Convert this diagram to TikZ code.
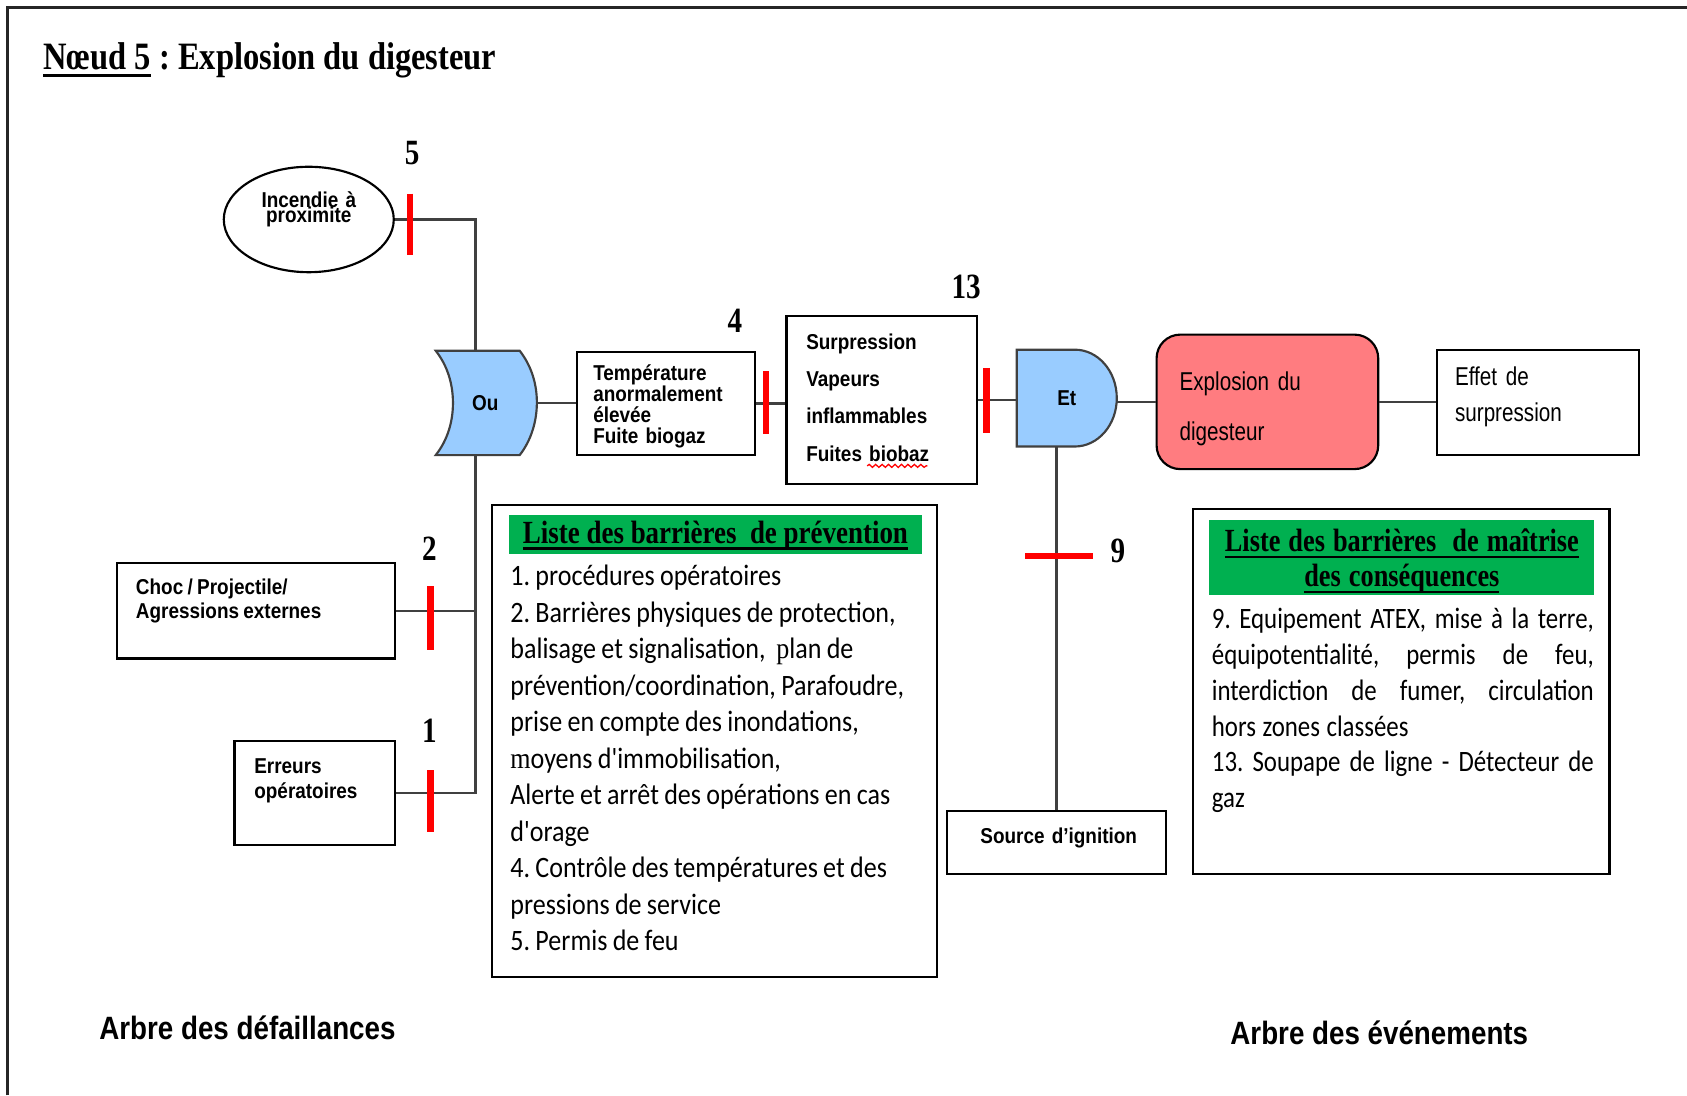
\documentclass[tikz,border=0pt]{standalone}
\usepackage{fontspec}
\usetikzlibrary{shapes.geometric,decorations.pathmorphing}
\setmainfont{Liberation Serif}
\newfontfamily\ttlfont[FakeStretch=0.84]{Liberation Serif}
\newfontfamily\numfont[FakeStretch=0.82]{Liberation Serif}
\newfontfamily\hdfont[FakeStretch=0.835]{Liberation Serif}
\newfontfamily\hdnfont[FakeStretch=0.815]{Liberation Serif}
\newfontfamily\labfont[FakeStretch=0.88]{Liberation Sans}
\newfontfamily\nrwfont[FakeStretch=0.80]{Liberation Sans}
\newfontfamily\lstfont[FakeStretch=0.88]{Carlito}
\newfontfamily\evtfont[FakeStretch=0.84]{Carlito}
\newfontfamily\lstserif[FakeStretch=0.88]{Liberation Serif}
\newfontfamily\arbfont[FakeStretch=0.86]{Liberation Sans}
\definecolor{gateblue}{HTML}{99CCFF}
\definecolor{alarm}{HTML}{FF7C80}
\definecolor{listgreen}{HTML}{00B050}
% underline at a fixed depth below the baseline
\newcommand\hdul[1]{\leavevmode\setbox0=\hbox{#1}\rlap{\rule[-3pt]{\wd0}{1.2pt}}\box0\relax}
\newcommand\ttlul[1]{\leavevmode\setbox0=\hbox{#1}\rlap{\rule[-3.4pt]{\wd0}{1.4pt}}\box0\relax}

\begin{document}
\frenchspacing
\begin{tikzpicture}[x=0.5pt,y=-0.5pt,
  box/.style={draw=black, line width=1pt, fill=white, inner sep=0pt},
  wire/.style={draw=black!75, line width=1pt},
  gate/.style={draw=black!75, line width=1pt, fill=gateblue},
  barrier/.style={draw=red, line width=3pt},
  num/.style={font=\numfont\bfseries\fontsize{16.5}{18}\selectfont, inner sep=0pt},
  lab/.style={font=\labfont\bfseries\fontsize{10}{#1}\selectfont, inner sep=0pt, align=left, text width=100pt},
  nrw/.style={font=\nrwfont\fontsize{12}{#1}\selectfont, inner sep=0pt, align=left, text width=100pt},
  lst/.style={font=\lstfont\fontsize{13.75}{16.95}\selectfont, inner sep=0pt, align=left},
  header/.style={fill=listgreen, inner sep=0pt},
  hdtext/.style={font=\hdfont\bfseries\fontsize{15}{16.25}\selectfont, inner sep=0pt},
  arbre/.style={font=\arbfont\bfseries\fontsize{15}{18}\selectfont, inner sep=0pt},
]
\useasboundingbox (0,0) rectangle (1568,1018);

% page frame
\draw[line width=1pt, black!85] (7,1018) -- (7,7) -- (1568,7);

% title
\node[anchor=base west, inner sep=0pt, font=\ttlfont\bfseries\fontsize{18}{20}\selectfont] (title) at (40,65)
  {\ttlul{Nœud 5} : Explosion du digesteur};

% ---------- boxes of the fault tree ----------
\node[box, ellipse, minimum width=79pt, minimum height=49pt] (inc) at (287,204) {};
\node[box, minimum width=129pt, minimum height=44.5pt] (choc) at (238,567.5) {};
\node[box, minimum width=74.5pt, minimum height=48pt] (err) at (292.5,737) {};
\node[box, minimum width=83pt, minimum height=48pt] (temp) at (619,375) {};
\node[box, minimum width=88.5pt, minimum height=78pt] (surp) at (819.5,372) {};
\node[box, minimum width=102pt, minimum height=29pt] (src) at (982,783) {};
\node[box, fill=alarm, rounded corners=11pt, minimum width=103pt, minimum height=62.5pt] (expl) at (1178,373.5) {};
\node[box, minimum width=93.5pt, minimum height=49pt] (effet) at (1429.5,374) {};

% junction points on the OR trunk
\coordinate (ouTop) at (442,326);
\coordinate (ouBot) at (442,423);

% ---------- gates ----------
\path[gate] (405,326) -- (483,326) .. controls (494,340) and (499,357) .. (499,374)
  .. controls (499,391) and (494,409) .. (483,423) -- (405,423)
  .. controls (416,409) and (421,392) .. (421,374.5)
  .. controls (421,357) and (416,340) .. (405,326) -- cycle;
\node[lab=11, align=center, text width=20pt, minimum width=47pt, minimum height=48.5pt] (ou) at (451,374.5) {Ou};

\path[gate] (945,325) -- (999,325) .. controls (1020.5,325) and (1038,345) .. (1038,370)
  .. controls (1038,395) and (1020.5,415) .. (999,415) -- (945,415) -- cycle;
\node[lab=11, align=center, text width=20pt, minimum width=46.5pt, minimum height=45pt] (et) at (991.5,370) {Et};

% ---------- connectors ----------
\draw[wire] (inc.east) -| (ouTop);
\draw[wire] (ouBot) |- (err.east);
\draw[wire] (choc.east) -- (choc.east -| ouBot);
\draw[wire] (ou.east) -- (ou.east -| temp.west);
\draw[wire] (temp.east) -- (temp.east -| surp.west);
\draw[wire] (surp.east) -- (surp.east -| et.west);
\draw[wire] (expl.west -| et.east) -- (expl.west);
\draw[wire] (expl.east) -- (expl.east -| effet.west);
\draw[wire] (src.north) -- (src.north |- et.south);

% ---------- barriers ----------
\draw[barrier] (381,180) -- (381,237);
\draw[barrier] (712,345) -- (712,403);
\draw[barrier] (917,342) -- (917,402);
\draw[barrier] (400,545) -- (400,604);
\draw[barrier] (400,716) -- (400,773);
\draw[barrier] (953,517) -- (1016,517);

\node[num] (n5) at (383,142) {5};
\node[num] (n4) at (683,298) {4};
\node[num] (n13) at (898,267) {13};
\node[num] (n2) at (399,510) {2};
\node[num] (n1) at (399,679) {1};
\node[num] (n9) at (1039,512) {9};

% ---------- box texts ----------
\node[lab=11, align=center, text width=70pt, anchor=base] (inc-t) at (287,193) {Incendie à\\[-4pt]proximite};
\node[lab=11, anchor=base west] (choc-t) at (126,553) {\spaceskip=0.2em\relax Choc / Projectile/\\Agressions externes};
\node[lab=11.5, anchor=base west] (err-t) at (236,719) {Erreurs\\opératoires};
\node[lab=9.75, anchor=base west] (temp-t) at (551,354) {Température\\anormalement\\élevée\\Fuite biogaz};
\node[lab=17.25, anchor=base west] (surp-t) at (749,325) {Surpression\\Vapeurs\\inflammables\\Fuites biobaz};
\draw[red, line width=0.6pt, decorate, decoration={snake, amplitude=0.7pt, segment length=3pt}] (806,433) -- (862,433);
\node[lab=11, align=center, anchor=base] (src-t) at (984,784) {Source d’ignition};
\node[nrw=23, anchor=base west] (expl-t) at (1096,363) {Explosion du\\digesteur};
\node[nrw=17, anchor=base west] (effet-t) at (1352,358) {Effet de\\surpression};

% ---------- prevention barriers ----------
\node[box, minimum width=207pt, minimum height=219.5pt] (prev) at (664,688.5) {};
\node[header, minimum width=192pt, minimum height=18pt] (prev-h) at (665,497) {};
\node[hdtext, anchor=base] (prev-ht) at (665,505) {\hdul{Liste des barrières\ \ de prévention}};
\node[lst, anchor=base west, text width=200pt] (prev-t) at (474,544.5) {\spaceskip=0.18em\relax
1. procédures opératoires\\
2. Barrières physiques de protection,\\
balisage et signalisation,\ \ {\lstserif p}lan de\\
prévention/coordination, Parafoudre,\\
prise en compte des inondations,\\
{\lstserif m}oyens d'immobilisation,\\
Alerte et arrêt des opérations en cas\\
d'orage\\
4. Contrôle des températures et des\\
pressions de service\\
5. Permis de feu};

% ---------- consequence barriers ----------
\node[box, minimum width=193.5pt, minimum height=169.5pt] (evt) at (1302.5,642.5) {};
\node[header, minimum width=179pt, minimum height=35pt] (evt-h) at (1303,518) {};
\node[hdtext, font=\hdnfont\bfseries\fontsize{15}{16.25}\selectfont, anchor=base, align=center, text width=179pt] (evt-ht) at (1303,513)
  {\spaceskip=0.25em\relax\hdul{Liste des barrières\ \ de maîtrise}\\\hdul{des conséquences}};
\node[lst, font=\evtfont\fontsize{13.75}{16.6}\selectfont, anchor=base west, text width=177.5pt] (evt-t) at (1126,584.5) {%
\spaceskip=0.22em plus 2em\relax
\makebox[177.5pt][s]{9. Equipement ATEX, mise à la terre,}\\
\makebox[177.5pt][s]{équipotentialité, permis de feu,}\\
\makebox[177.5pt][s]{interdiction de fumer, circulation}\\
hors zones classées\\
\makebox[177.5pt][s]{13. Soupape de ligne - Détecteur de}\\
gaz};

% ---------- captions ----------
\node[arbre] (arbre-d) at (230,955) {Arbre des défaillances};
\node[arbre] (arbre-e) at (1282,960) {Arbre des événements};
\end{tikzpicture}
\end{document}
